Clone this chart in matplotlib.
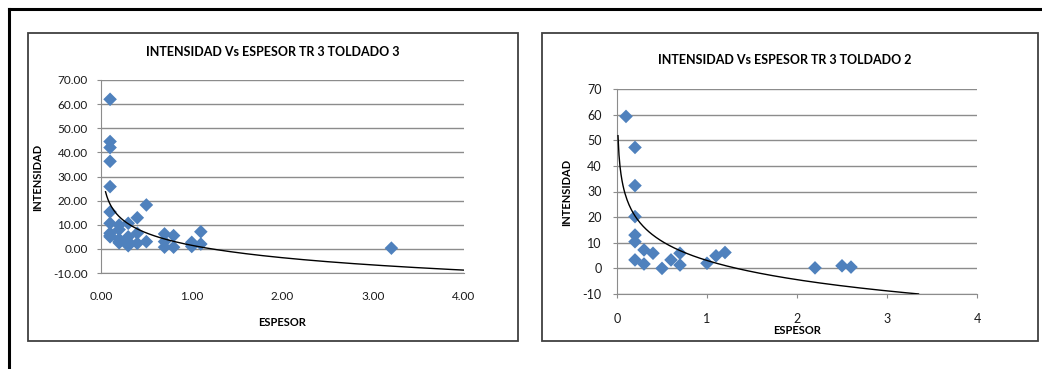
import numpy as np
import matplotlib
matplotlib.use('Agg')
import matplotlib.pyplot as plt
from matplotlib.patches import Rectangle
from matplotlib.lines import Line2D

# datos TOLDADO 3
espesor_t3 = [0.1, 0.1, 0.1, 0.1, 0.1, 0.1, 0.1, 0.1, 0.1, 0.1,
              0.2, 0.2, 0.2, 0.2, 0.2,
              0.3, 0.3, 0.3, 0.3,
              0.4, 0.4, 0.4,
              0.5, 0.5,
              0.7, 0.7, 0.7,
              0.8, 0.8,
              1.0, 1.0, 1.0,
              1.1, 1.1,
              3.2]
intensidad_t3 = [62.0, 44.5, 42.0, 36.3, 25.8, 15.3, 10.6, 6.5, 5.5, 5.0,
                 9.9, 8.0, 4.0, 3.0, 2.5,
                 10.6, 5.0, 3.0, 1.3,
                 12.9, 6.5, 2.3,
                 18.2, 3.0,
                 6.2, 3.0, 0.7,
                 5.5, 0.7,
                 2.7, 1.8, 1.0,
                 7.1, 2.0,
                 0.3]

# datos TOLDADO 2
espesor_t2 = [0.1, 0.2, 0.2, 0.2, 0.2, 0.2, 0.2, 0.3, 0.3, 0.4, 0.5, 0.6,
              0.7, 0.7, 1.0, 1.1, 1.2, 2.2, 2.5, 2.6]
intensidad_t2 = [59.3, 47.2, 32.3, 20.2, 13.0, 10.4, 3.3, 7.2, 1.7, 5.9, 0.0, 3.3,
                 5.9, 1.3, 2.0, 4.9, 6.2, 0.2, 1.0, 0.5]

# lineas de tendencia logaritmicas (y = a ln x + b)
trend_t3 = (-7.41, 1.47, 0.05, 4.0)
trend_t2 = (-10.8, 3.08, 0.011, 3.35)

W, H = 1042, 369
fig = plt.figure(figsize=(W / 100, H / 100), dpi=100)
plt.rcParams['font.family'] = ['Lato', 'DejaVu Sans']

BLUE = '#4F81BD'
GRID = '#8C8C8C'


def px(x0, y_top, x1, y_bot):
    return [x0 / W, 1 - y_bot / H, (x1 - x0) / W, (y_bot - y_top) / H]


# marcos
fig.add_artist(Line2D([9 / W, 1], [1 - 8.5 / H] * 2, color='black', lw=2.2))
fig.add_artist(Line2D([9 / W] * 2, [0, 1 - 8.5 / H], color='black', lw=2.2))
for x0, x1 in [(28, 518), (542, 1038)]:
    fig.add_artist(Rectangle((x0 / W, 1 - 341 / H), (x1 - x0) / W, (341 - 33) / H,
                             fill=False, edgecolor='#404040', lw=1.3))


def draw(rect, xs, ys, trend, title, title_xy, ylab_xy, xlab_xy,
         fmt, ylpad, xlpad, xtick_len, lsize):
    ax = fig.add_axes(px(*rect))
    ax.scatter(xs, ys, marker='D', s=48, color=BLUE, edgecolors='none', zorder=3)
    a, b, x_start, x_end = trend
    xt = np.linspace(x_start, x_end, 300)
    ax.plot(xt, a * np.log(xt) + b, color='black', lw=1.0, zorder=4)
    ax.set_xlim(0, 4)
    ax.set_ylim(-10, 70)
    ax.set_xticks(range(0, 5))
    ax.set_yticks(range(-10, 71, 10))
    ax.set_xticklabels([fmt.format(v) for v in range(0, 5)])
    ax.set_yticklabels([fmt.format(v) for v in range(-10, 71, 10)])
    ax.grid(axis='y', color=GRID, lw=1.0)
    ax.set_axisbelow(True)
    for s in ['top', 'right']:
        ax.spines[s].set_visible(False)
    ax.spines['left'].set_color(GRID)
    ax.spines['bottom'].set_color(GRID)
    ax.tick_params(axis='y', length=3, color=GRID, pad=ylpad, labelsize=lsize,
                   labelcolor='#1a1a1a')
    ax.tick_params(axis='x', length=xtick_len, color=GRID, pad=xlpad, labelsize=lsize,
                   labelcolor='#1a1a1a')
    fig.text(title_xy[0] / W, 1 - title_xy[1] / H, title, ha='center', va='center',
             fontsize=9, fontweight='bold')
    fig.text(ylab_xy[0] / W, 1 - ylab_xy[1] / H, 'INTENSIDAD', ha='center', va='center',
             rotation=90, fontsize=8, fontweight='bold')
    fig.text(xlab_xy[0] / W, 1 - xlab_xy[1] / H, 'ESPESOR', ha='center', va='center',
             fontsize=8, fontweight='bold')
    return ax


draw((101, 80, 464, 273), espesor_t3, intensidad_t3, trend_t3,
     'INTENSIDAD Vs ESPESOR TR 3 TOLDADO 3', (273, 52), (38, 177), (282, 322),
     '{:.2f}', 6.5, 13, 0, 8.5)
draw((617, 89, 977, 294), espesor_t2, intensidad_t2, trend_t2,
     'INTENSIDAD Vs ESPESOR TR 3 TOLDADO 2', (785, 60), (567, 192), (797, 331),
     '{:d}', 8, 11, 3, 9)

fig.savefig('out.png', dpi=100)
